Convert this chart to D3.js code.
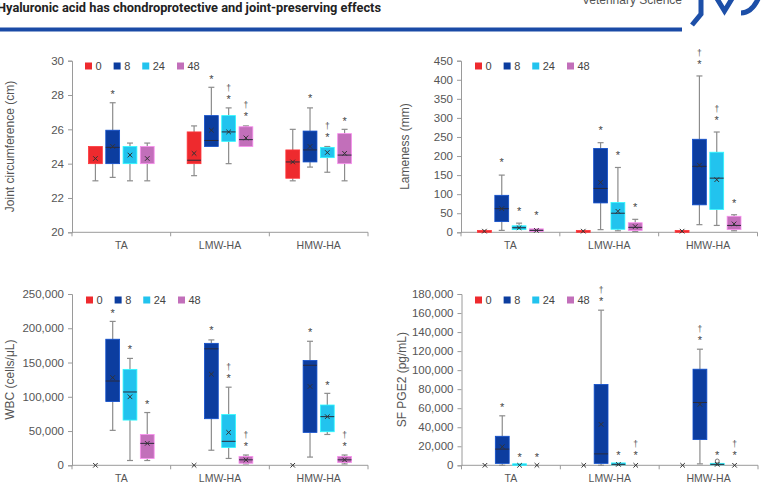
<!DOCTYPE html>
<html><head><meta charset="utf-8">
<script src="https://cdn.jsdelivr.net/npm/d3@7"></script>
<style>body{margin:0;background:#fff}svg{display:block;font-family:"Liberation Sans",Arial,sans-serif}</style>
</head><body>
<svg id="c" width="764" height="485"></svg>
<script>
const categories = ["TA", "LMW-HA", "HMW-HA"];
const timepoints = ["0", "8", "24", "48"];
const colors = ["#ee2a2e", "#0c3d9f", "#22c3ee", "#c26fba"];

// each entry: [min, q1, median, q3, max, mean]
const jointStats = [
  [[23, 24, 24, 25, 25, 24.3], [23.2, 24, 24.95, 25.95, 27.55, 25.0], [23, 24, 25, 25, 25.2, 24.5], [23, 24, 25, 25, 25.2, 24.3]],
  [[23.3, 24, 24.2, 25.85, 26.2, 24.6], [25, 25, 25.35, 26.8, 28.45, 25.95], [24, 25.3, 25.85, 26.8, 27.25, 25.85], [25, 25, 25.4, 26.15, 26.2, 25.5]],
  [[23, 23.15, 24.1, 24.8, 26, 24.1], [23.8, 24.1, 24.8, 25.9, 27.25, 25.0], [23.5, 24.35, 24.95, 24.95, 25, 24.65], [23, 24, 24.5, 25.75, 26, 24.6]]
];
const jointStars = [[null, 28.15, null, null], [null, 29.05, 27.85, 26.85], [null, 27.9, 25.65, 26.6]];
const jointDaggers = [[0, 0, 0, 0], [0, 0, 1, 1], [0, 0, 1, 0]];
const jointTicks = [20, 22, 24, 26, 28, 30];

const lamenessStats = [
  [[0, 0, 0, 5, 5, 3], [5, 28, 62, 97, 150, 62], [7, 7, 12, 17, 24, 12], [2, 2, 5, 9, 9, 5]],
  [[0, 0, 0, 5, 5, 3], [7, 77, 115, 220, 235, 131], [4, 8, 50, 78, 170, 55], [2, 5, 13, 25, 34, 15]],
  [[0, 0, 0, 5, 5, 3], [20, 72, 173, 244, 410, 176], [18, 60, 142, 210, 263, 138], [4, 7, 18, 42, 46, 22]]
];
const lamenessStars = [[null, 187, 60, 48], [null, 271, 207, 71], [null, 445, 298, 82]];
const lamenessDaggers = [[0, 0, 0, 0], [0, 0, 0, 0], [0, 1, 1, 0]];
const lamenessTicks = [0, 50, 100, 150, 200, 250, 300, 350, 400, 450];

const wbcStats = [
  [[0, 0, 0, 0, 0, 0], [51000, 93000, 123000, 184000, 210000, 128000], [7000, 66000, 107000, 140000, 156000, 100000], [7000, 10000, 32000, 45000, 77000, 32000]],
  [[0, 0, 0, 0, 0, 0], [22000, 68000, 170000, 178000, 183000, 133000], [10000, 26000, 35000, 74000, 114000, 48000], [2000, 3000, 8000, 13000, 15000, 8000]],
  [[0, 0, 0, 0, 0, 0], [12000, 48000, 146000, 153000, 181000, 115000], [45000, 49000, 71000, 88000, 105000, 71000], [2000, 4000, 8000, 13000, 15000, 8000]]
];
const wbcStars = [[null, 225000, 172000, 92000], [null, 199000, 129500, 30000], [null, 196500, 119500, 30000]];
const wbcDaggers = [[0, 0, 0, 0], [0, 0, 1, 1], [0, 0, 0, 1]];
const wbcTicks = [0, 50000, 100000, 150000, 200000, 250000];

const pgeStats = [
  [[0, 0, 0, 0, 0, 0], [0, 2000, 17000, 30500, 52000, 19500], [0, 0, 0, 300, 300, 0], [0, 0, 0, 0, 0, 0]],
  [[0, 0, 0, 0, 0, 0], [0, 2000, 12000, 85000, 163000, 43000], [0, 500, 1000, 2500, 2500, 1000], [0, 0, 0, 0, 0, 0]],
  [[0, 0, 0, 0, 0, 0], [1500, 27000, 66000, 101000, 122000, 64000], [0, 500, 1000, 2000, 2000, 1000], [0, 0, 0, 0, 0, 0]]
];
const pgeOutliers = [[[], [], [], []], [[], [], [], []], [[], [], [4500], []]];
const pgeStars = [[null, 63000, 10800, 10800], [null, 174500, 12600, 12600], [null, 133000, 12600, 12600]];
const pgeDaggers = [[0, 0, 0, 0], [0, 1, 0, 1], [0, 1, 0, 1]];
const pgeTicks = [0, 20000, 40000, 60000, 80000, 100000, 120000, 140000, 160000, 180000];

const svg = d3.select("#c");

// ---------- header ----------
svg.append("text").attr("x", -3).attr("y", 11.5)
  .attr("font-family", "Roboto, 'Liberation Sans', sans-serif").attr("font-weight", "bold")
  .attr("font-size", 13.5).attr("fill", "#222")
  .attr("textLength", 384).attr("lengthAdjust", "spacingAndGlyphs")
  .text("Hyaluronic acid has chondroprotective and joint-preserving effects");
svg.append("text").attr("x", 682).attr("y", 3.5).attr("text-anchor", "end")
  .attr("font-size", 12).attr("fill", "#555").text("Veterinary Science");
svg.append("rect").attr("x", 0).attr("y", 27.5).attr("width", 682).attr("height", 4).attr("fill", "#1a4aa6");
const logo = svg.append("g").attr("fill", "none").attr("stroke", "#1d4fa8").attr("stroke-width", 5).attr("stroke-linejoin", "miter");
logo.append("path").attr("d", "M701,-3 L701,14 L692,25");
logo.append("path").attr("d", "M716,-3 L724.5,11 L733,-3");
logo.append("path").attr("d", "M741,13 Q752,13 759,-3");

// ---------- panels ----------
const panels = [
  { stats: jointStats, stars: jointStars, daggers: jointDaggers, ticks: jointTicks, domain: [20, 30],
    title: "Joint circumference (cm)", x0: 72, x1: 368, yTop: 60.7, yBot: 232.3, titleX: 10, legendX: 85, legendY: 66, catY: 249 },
  { stats: lamenessStats, stars: lamenessStars, daggers: lamenessDaggers, ticks: lamenessTicks, domain: [0, 450],
    title: "Lameness (mm)", x0: 461, x1: 757.5, yTop: 60.7, yBot: 232.3, titleX: 405, legendX: 475, legendY: 66, catY: 249 },
  { stats: wbcStats, stars: wbcStars, daggers: wbcDaggers, ticks: wbcTicks, domain: [0, 250000],
    title: "WBC (cells/μL)", x0: 72, x1: 368, yTop: 294, yBot: 465.3, titleX: 10, legendX: 86, legendY: 300, catY: 482 },
  { stats: pgeStats, stars: pgeStars, daggers: pgeDaggers, outliers: pgeOutliers, ticks: pgeTicks, domain: [0, 180000],
    title: "SF PGE2 (pg/mL)", x0: 461.5, x1: 758, yTop: 294, yBot: 465.3, titleX: 402, legendX: 475, legendY: 300, catY: 482 }
];

const fmt = d3.format(",");

panels.forEach(cfg => {
  const g = svg.append("g");
  const y = d3.scaleLinear().domain(cfg.domain).range([cfg.yBot, cfg.yTop]);
  const x = d3.scaleBand().domain(categories).range([cfg.x0, cfg.x1]);
  const xi = d3.scaleBand().domain(timepoints).range([16.5, x.bandwidth() - 16.5]).paddingInner(0.2);
  const bw = xi.bandwidth();

  // y axis
  const yAxis = g.append("g").attr("transform", `translate(${cfg.x0},0)`)
    .call(d3.axisLeft(y).tickValues(cfg.ticks).tickSize(4).tickPadding(4).tickFormat(fmt));
  yAxis.select(".domain").attr("stroke", "#9a9a9a");
  yAxis.selectAll(".tick line").attr("stroke", "#9a9a9a");
  yAxis.selectAll(".tick text").attr("fill", "#555").attr("font-size", 11.5)
    .attr("font-family", "'Liberation Sans', Arial, sans-serif");

  // x axis
  const xAxis = g.append("g").attr("transform", `translate(0,${cfg.yBot})`);
  xAxis.append("line").attr("x1", cfg.x0).attr("x2", cfg.x1).attr("stroke", "#9a9a9a");
  const bounds = [cfg.x0].concat(categories.map(c => x(c) + x.bandwidth()));
  xAxis.selectAll("line.tk").data(bounds).join("line").attr("class", "tk")
    .attr("x1", d => d).attr("x2", d => d).attr("y1", 0).attr("y2", 4).attr("stroke", "#9a9a9a");
  g.selectAll("text.cat").data(categories).join("text").attr("class", "cat")
    .attr("x", d => x(d) + x.bandwidth() / 2).attr("y", cfg.catY)
    .attr("text-anchor", "middle").attr("font-size", 10.5).attr("fill", "#555").text(d => d);

  // y title
  const ym = (cfg.yTop + cfg.yBot) / 2;
  g.append("text").attr("transform", `translate(${cfg.titleX},${ym}) rotate(-90)`)
    .attr("text-anchor", "middle").attr("dominant-baseline", "central")
    .attr("font-size", 12).attr("fill", "#555").text(cfg.title);

  // boxes
  categories.forEach((cat, ci) => {
    timepoints.forEach((tp, ti) => {
      const [mn, q1, md, q3, mx, mean] = cfg.stats[ci][ti];
      const left = x(cat) + xi(tp);
      const cx = left + bw / 2;
      const col = colors[ti];
      const wg = g.append("g");
      if (mx > q3) {
        wg.append("line").attr("x1", cx).attr("x2", cx).attr("y1", y(q3)).attr("y2", y(mx)).attr("stroke", "#8c8c8c").attr("stroke-width", 1.2);
        wg.append("line").attr("x1", cx - 3).attr("x2", cx + 3).attr("y1", y(mx)).attr("y2", y(mx)).attr("stroke", "#8c8c8c").attr("stroke-width", 1.2);
      }
      if (mn < q1) {
        wg.append("line").attr("x1", cx).attr("x2", cx).attr("y1", y(q1)).attr("y2", y(mn)).attr("stroke", "#8c8c8c").attr("stroke-width", 1.2);
        wg.append("line").attr("x1", cx - 3).attr("x2", cx + 3).attr("y1", y(mn)).attr("y2", y(mn)).attr("stroke", "#8c8c8c").attr("stroke-width", 1.2);
      }
      if (q3 > q1) {
        const h = Math.max(1.5, y(q1) - y(q3));
        wg.append("rect").attr("x", left).attr("y", y(q1) - h).attr("width", bw).attr("height", h)
          .attr("fill", col).attr("stroke", d3.color(col).brighter(0.7)).attr("stroke-width", 0.8);
        if (md > q1 && md < q3) {
          wg.append("line").attr("x1", left).attr("x2", left + bw).attr("y1", y(md)).attr("y2", y(md))
            .attr("stroke", "#2b2b3a").attr("stroke-width", 1);
        }
      }
      if (cfg.outliers) {
        cfg.outliers[ci][ti].forEach(o => {
          wg.append("circle").attr("cx", cx).attr("cy", y(o)).attr("r", 2).attr("fill", "none").attr("stroke", "#666").attr("stroke-width", 0.9);
        });
      }
      // mean marker
      const my = y(mean), s = 2.3;
      wg.append("path").attr("d", `M${cx - s},${my - s}L${cx + s},${my + s}M${cx - s},${my + s}L${cx + s},${my - s}`)
        .attr("stroke", "#333").attr("stroke-width", 1).attr("fill", "none");
      // significance marks
      const st = cfg.stars[ci][ti];
      if (st != null) {
        const base = y(st) + 5.5;
        wg.append("text").attr("x", cx).attr("y", base).attr("text-anchor", "middle")
          .attr("font-size", 11).attr("fill", "#444").text("*");
        if (cfg.daggers[ci][ti]) {
          wg.append("text").attr("x", cx).attr("y", base - 12.2).attr("text-anchor", "middle")
            .attr("font-size", 8.5).attr("fill", "#555").text("†");
        }
      }
    });
  });

  // legend
  const lg = g.append("g").attr("transform", `translate(${cfg.legendX},${cfg.legendY})`);
  let cur = 0;
  timepoints.forEach((tp, ti) => {
    lg.append("rect").attr("x", cur).attr("y", -3.5).attr("width", 7).attr("height", 7).attr("fill", colors[ti]);
    const t = lg.append("text").attr("x", cur + 10.5).attr("y", 4).attr("font-size", 11).attr("fill", "#444").text(tp);
    cur += 10.5 + t.node().getComputedTextLength() + 12;
  });
});
</script>
</body></html>
